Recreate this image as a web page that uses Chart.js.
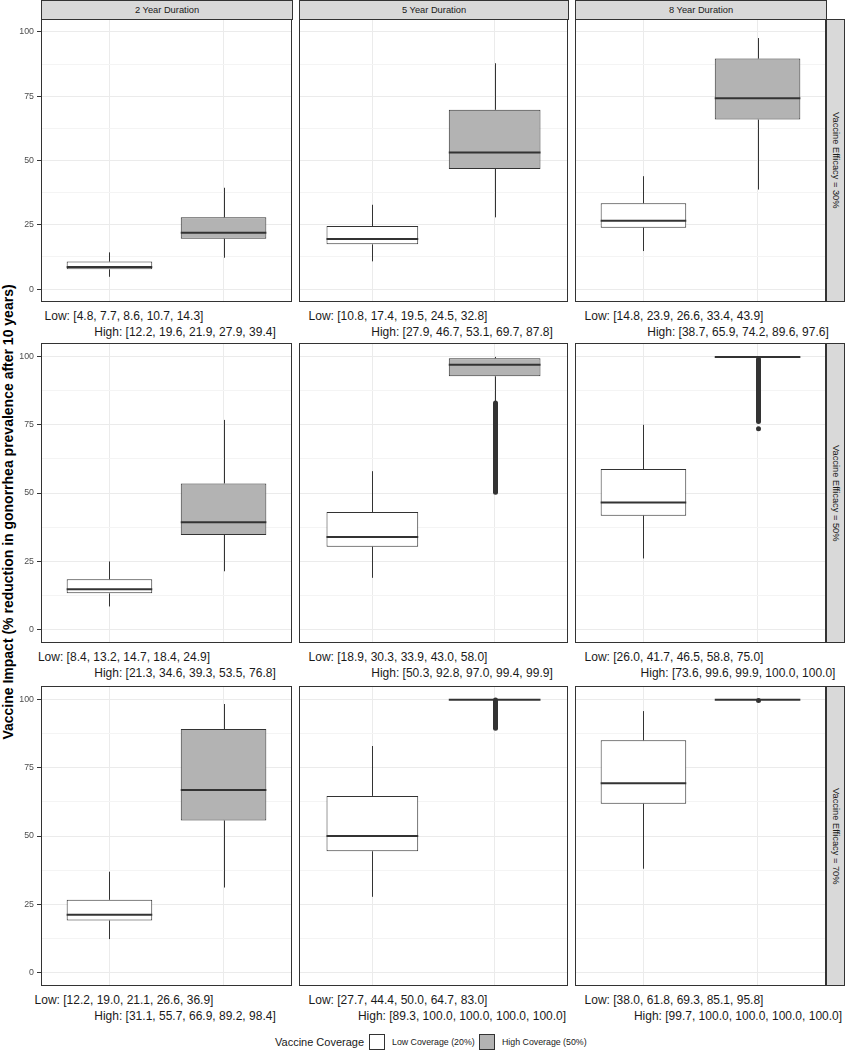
<!DOCTYPE html>
<html>
<head>
<meta charset="utf-8">
<script src="https://cdn.jsdelivr.net/npm/chart.js@4.4.1/dist/chart.umd.min.js"></script>
<style>
  body {
    margin: 0;
    width: 845px;
    height: 1050px;
    position: relative;
    overflow: hidden;
    background: #ffffff;
    font-family: 'Liberation Sans', Arial, sans-serif;
  }
  canvas { position: absolute; }
  .strip-top, .strip-right {
    position: absolute;
    box-sizing: border-box;
    background: #d9d9d9;
    border: 1px solid #333333;
    color: #1a1a1a;
    font-size: 9.3px;
    display: flex;
    align-items: center;
    justify-content: center;
    white-space: nowrap;
  }
  .strip-right { writing-mode: vertical-rl; }
  .stat-label {
    position: absolute;
    transform: translate(-50%, -50%);
    white-space: nowrap;
    font-size: 12px;
    color: #1a1a1a;
  }
  #y-title {
    position: absolute;
    left: -292px;
    top: 502px;
    width: 600px;
    height: 20px;
    line-height: 20px;
    text-align: center;
    font-size: 14px;
    font-weight: bold;
    color: #000000;
    transform: rotate(-90deg);
    white-space: nowrap;
  }
  .legend-text {
    position: absolute;
    transform: translateY(-50%);
    white-space: nowrap;
    color: #1a1a1a;
  }
  .legend-key {
    position: absolute;
    box-sizing: border-box;
    width: 16px;
    height: 16px;
    border: 1px solid #333333;
  }
</style>
</head>
<body>
<div id="y-title">Vaccine Impact (% reduction in gonorrhea prevalence after 10 years)</div>

<div class="legend-text" style="left:275px; top:1042px; font-size:11px;">Vaccine Coverage</div>
<div class="legend-key" style="left:369px; top:1034px; background:#ffffff;"></div>
<div class="legend-text" id="leg-low" style="left:392px; top:1042px; font-size:8.8px;"></div>
<div class="legend-key" style="left:479px; top:1034px; background:#b3b3b3;"></div>
<div class="legend-text" id="leg-high" style="left:502px; top:1042px; font-size:8.8px;"></div>

<script>
/* ========================================
   DATA
   ======================================== */

const durations = ['2 Year Duration', '5 Year Duration', '8 Year Duration'];
const efficacies = ['Vaccine Efficacy = 30%', 'Vaccine Efficacy = 50%', 'Vaccine Efficacy = 70%'];
const coverageLabels = ['Low Coverage (20%)', 'High Coverage (50%)'];

// [min, q1, median, q3, max] per panel, row by row (efficacy x duration)
const lowStats = [
  [4.8, 7.7, 8.6, 10.7, 14.3], [10.8, 17.4, 19.5, 24.5, 32.8], [14.8, 23.9, 26.6, 33.4, 43.9],
  [8.4, 13.2, 14.7, 18.4, 24.9], [18.9, 30.3, 33.9, 43.0, 58.0], [26.0, 41.7, 46.5, 58.8, 75.0],
  [12.2, 19.0, 21.1, 26.6, 36.9], [27.7, 44.4, 50.0, 64.7, 83.0], [38.0, 61.8, 69.3, 85.1, 95.8]
];
const highStats = [
  [12.2, 19.6, 21.9, 27.9, 39.4], [27.9, 46.7, 53.1, 69.7, 87.8], [38.7, 65.9, 74.2, 89.6, 97.6],
  [21.3, 34.6, 39.3, 53.5, 76.8], [50.3, 92.8, 97.0, 99.4, 99.9], [73.6, 99.6, 99.9, 100.0, 100.0],
  [31.1, 55.7, 66.9, 89.2, 98.4], [89.3, 100.0, 100.0, 100.0, 100.0], [99.7, 100.0, 100.0, 100.0, 100.0]
];

// lower whisker end of the high coverage box (differs from min when there are outliers)
const highWhiskerLow = [12.2, 27.9, 38.7, 21.3, 83.2, 99.0, 31.1, 100.0, 100.0];
// dense outlier runs [from, to] and single outliers of the high coverage box
const highOutlierBands = [null, null, null, null, [50.3, 83.0], [76.2, 99.0], null, [89.5, 99.9], null];
const highOutlierDots = [[], [], [], [], [], [73.6], [], [], [99.7]];

const xPositions = [1, 2];
const yMajorTicks = [0, 25, 50, 75, 100];
const yMinorTicks = [12.5, 37.5, 62.5, 87.5];

/* ========================================
   LAYOUT
   ======================================== */

const colLeft = [41, 299, 575];
const colRight = [292, 568, 826];
const rowTop = [19, 343, 686];
const rowBottom = [302, 643, 986];
const lowLabelX = [124, 398, 674];
const highLabelX = [185, 462, 738];
const boxColors = ['#ffffff', '#b3b3b3'];
const lineColor = '#333333';
const fontFamily = "'Liberation Sans', Arial, sans-serif";

/* ========================================
   PLUGINS
   ======================================== */

/**
 * Whiskers, outliers and median lines of the two boxes of a panel
 */
function makeBoxPlugin(groups) {
  function seg(ctx, x1, y1, x2, y2) {
    ctx.beginPath();
    ctx.moveTo(x1, y1);
    ctx.lineTo(x2, y2);
    ctx.stroke();
  }

  return {
    id: 'boxExtras',
    beforeDatasetsDraw(chart) {
      const { ctx, scales: { x, y } } = chart;
      ctx.save();
      groups.forEach((g, i) => {
        const cx = Math.round(x.getPixelForValue(xPositions[i])) + 0.5;

        // outliers
        ctx.strokeStyle = lineColor;
        ctx.fillStyle = lineColor;
        if (g.band) {
          ctx.lineWidth = 5;
          ctx.lineCap = 'round';
          seg(ctx, cx, y.getPixelForValue(g.band[0]), cx, y.getPixelForValue(g.band[1]));
        }
        g.dots.forEach(v => {
          ctx.beginPath();
          ctx.arc(cx, y.getPixelForValue(v), 2.5, 0, Math.PI * 2);
          ctx.fill();
        });

        // whiskers
        ctx.lineWidth = 1;
        ctx.lineCap = 'butt';
        seg(ctx, cx, y.getPixelForValue(g.whiskerLow), cx, y.getPixelForValue(g.stats[1]));
        seg(ctx, cx, y.getPixelForValue(g.stats[3]), cx, y.getPixelForValue(g.stats[4]));
      });
      ctx.restore();
    },
    afterDatasetsDraw(chart) {
      const { ctx, scales: { y } } = chart;
      const meta = chart.getDatasetMeta(0);
      ctx.save();
      ctx.strokeStyle = lineColor;
      ctx.lineWidth = 2;
      groups.forEach((g, i) => {
        const bar = meta.data[i];
        const my = y.getPixelForValue(g.stats[2]);
        seg(ctx, bar.x - bar.width / 2, my, bar.x + bar.width / 2, my);
      });
      ctx.restore();
    }
  };
}

/**
 * Border around the panel area
 */
const panelBorder = {
  id: 'panelBorder',
  afterDraw(chart) {
    const { ctx, chartArea: a } = chart;
    ctx.save();
    ctx.strokeStyle = lineColor;
    ctx.lineWidth = 1;
    ctx.strokeRect(a.left + 0.5, a.top + 0.5, a.right - a.left - 1, a.bottom - a.top - 1);
    ctx.restore();
  }
};

/* ========================================
   PANELS
   ======================================== */

function formatStats(name, stats) {
  return name + ': [' + stats.map(v => v.toFixed(1)).join(', ') + ']';
}

function addDiv(cls, text, style) {
  const d = document.createElement('div');
  d.className = cls;
  d.textContent = text;
  d.style.cssText = style;
  document.body.appendChild(d);
  return d;
}

// no extra room for labels that stick out of the axis
function noPadding(s) {
  s.paddingTop = 0;
  s.paddingBottom = 0;
  s.paddingLeft = 0;
  s.paddingRight = 0;
}

/**
 * Builds one facet: canvas with the two boxes plus its labels
 */
function buildPanel(row, col) {
  const k = row * 3 + col;
  const first = col === 0;
  const left = first ? 0 : colLeft[col];
  const width = colRight[col] - left;
  const height = rowBottom[row] - rowTop[row];

  const canvas = document.createElement('canvas');
  canvas.width = width;
  canvas.height = height;
  canvas.style.cssText = `left:${left}px;top:${rowTop[row]}px;width:${width}px;height:${height}px;`;
  document.body.appendChild(canvas);

  const low = lowStats[k];
  const high = highStats[k];
  const groups = [
    { stats: low, whiskerLow: low[0], band: null, dots: [] },
    { stats: high, whiskerLow: highWhiskerLow[k], band: highOutlierBands[k], dots: highOutlierDots[k] }
  ];
  const isMajor = v => yMajorTicks.includes(v);

  new Chart(canvas, {
    type: 'bar',
    data: {
      datasets: [{
        data: [
          { x: xPositions[0], y: [low[1], low[3]] },
          { x: xPositions[1], y: [high[1], high[3]] }
        ],
        backgroundColor: boxColors,
        borderColor: lineColor,
        borderWidth: 1,
        borderSkipped: false,
        barPercentage: 0.75,
        categoryPercentage: 1
      }]
    },
    options: {
      responsive: false,
      animation: false,
      devicePixelRatio: 1,
      layout: { padding: 0, autoPadding: false },
      plugins: {
        legend: { display: false },
        tooltip: { enabled: false }
      },
      scales: {
        x: {
          type: 'linear',
          min: 0.4,
          max: 2.6,
          offset: false,
          ticks: { display: false },
          grid: { offset: false, color: '#ebebeb', lineWidth: 1, drawTicks: false },
          border: { display: false },
          afterBuildTicks: s => { s.ticks = xPositions.map(v => ({ value: v })); },
          afterFit: s => { s.height = 0; noPadding(s); }
        },
        y: {
          type: 'linear',
          min: -5,
          max: 105,
          ticks: {
            display: first,
            color: '#4d4d4d',
            padding: 3,
            font: { family: fontFamily, size: 8.8 },
            callback: v => isMajor(v) ? v : ''
          },
          grid: {
            color: c => isMajor(c.tick.value) ? '#ebebeb' : '#f4f4f4',
            lineWidth: 1,
            drawTicks: first,
            tickLength: 4,
            tickColor: c => isMajor(c.tick.value) ? lineColor : 'rgba(0,0,0,0)'
          },
          border: { display: false },
          afterBuildTicks: s => {
            s.ticks = yMajorTicks.concat(yMinorTicks).sort((a, b) => a - b).map(v => ({ value: v }));
          },
          afterFit: s => { s.width = first ? colLeft[0] : 0; noPadding(s); }
        }
      }
    },
    plugins: [makeBoxPlugin(groups), panelBorder]
  });

  // stats captions under the panel
  const bottom = rowBottom[row];
  addDiv('stat-label', formatStats('Low', low), `left:${lowLabelX[col]}px;top:${bottom + 13.5}px;`);
  addDiv('stat-label', formatStats('High', high), `left:${highLabelX[col]}px;top:${bottom + 30}px;`);
}

function buildStrips() {
  durations.forEach((d, c) => {
    addDiv('strip-top', d, `left:${colLeft[c]}px;top:0px;width:${colRight[c] - colLeft[c] + 1}px;height:20px;`);
  });
  efficacies.forEach((e, r) => {
    addDiv('strip-right', e, `left:${colRight[2]}px;top:${rowTop[r]}px;width:19px;height:${rowBottom[r] - rowTop[r]}px;`);
  });
  document.getElementById('leg-low').textContent = coverageLabels[0];
  document.getElementById('leg-high').textContent = coverageLabels[1];
}

/* ========================================
   INIT
   ======================================== */

buildStrips();
for (let r = 0; r < 3; r++) {
  for (let c = 0; c < 3; c++) {
    buildPanel(r, c);
  }
}
</script>
</body>
</html>
